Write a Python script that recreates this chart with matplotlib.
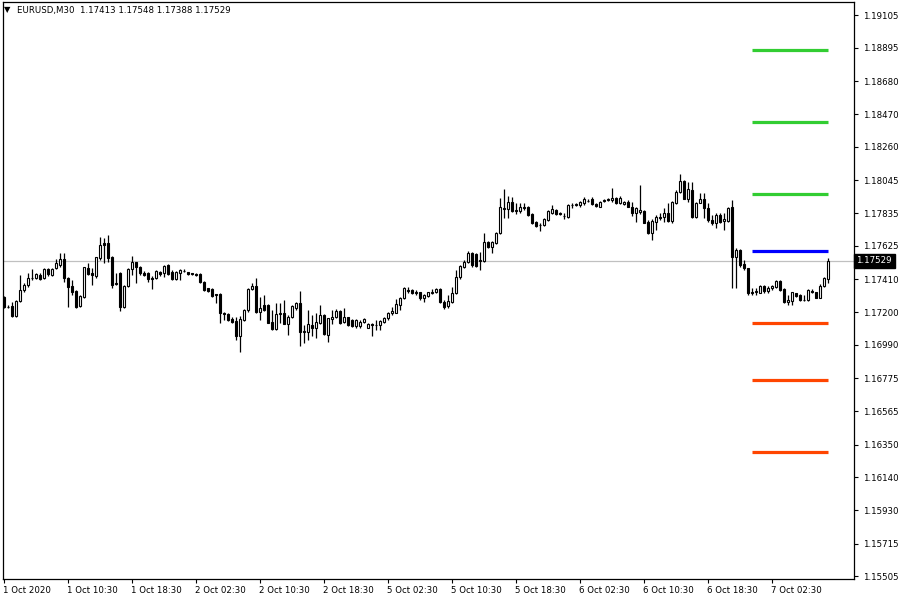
import numpy as np
import matplotlib
matplotlib.use("Agg")
import matplotlib.pyplot as plt
import matplotlib.transforms as mtransforms

# EURUSD M30 candles (one entry per bar)
opens = [1.17299, 1.17236, 1.17240, 1.17176, 1.17272, 1.17342, 1.17374, 1.17417, 1.17421, 1.17438,
         1.17417, 1.17477, 1.17438, 1.17482, 1.17503, 1.17539, 1.17421, 1.17368, 1.17338, 1.17240,
         1.17299, 1.17486, 1.17453, 1.17432, 1.17546, 1.17642, 1.17642, 1.17556, 1.17380, 1.17449,
         1.17235, 1.17368, 1.17475, 1.17520, 1.17492, 1.17453, 1.17453, 1.17421, 1.17417, 1.17459,
         1.17453, 1.17503, 1.17459, 1.17410, 1.17453, 1.17467, 1.17455, 1.17449, 1.17442, 1.17442,
         1.17395, 1.17353, 1.17348, 1.17314, 1.17314, 1.17193, 1.17186, 1.17156, 1.17144, 1.17048,
         1.17150, 1.17214, 1.17346, 1.17368, 1.17203, 1.17246, 1.17246, 1.17139, 1.17092, 1.17190,
         1.17197, 1.17122, 1.17167, 1.17229, 1.17257, 1.17074, 1.17074, 1.17118, 1.17096, 1.17133,
         1.17182, 1.17053, 1.17156, 1.17171, 1.17207, 1.17135, 1.17167, 1.17150, 1.17111, 1.17111,
         1.17135, 1.17100, 1.17122, 1.17118, 1.17118, 1.17139, 1.17161, 1.17193, 1.17197, 1.17246,
         1.17289, 1.17342, 1.17342, 1.17321, 1.17327, 1.17289, 1.17305, 1.17323, 1.17331, 1.17348,
         1.17267, 1.17240, 1.17267, 1.17321, 1.17425, 1.17488, 1.17524, 1.17582, 1.17573, 1.17529,
         1.17529, 1.17652, 1.17616, 1.17646, 1.17706, 1.17866, 1.17862, 1.17909, 1.17851, 1.17851,
         1.17873, 1.17873, 1.17827, 1.17780, 1.17757, 1.17759, 1.17791, 1.17838, 1.17855, 1.17838,
         1.17817, 1.17812, 1.17888, 1.17888, 1.17888, 1.17903, 1.17916, 1.17924, 1.17894, 1.17877,
         1.17916, 1.17920, 1.17920, 1.17931, 1.17899, 1.17894, 1.17907, 1.17875, 1.17838, 1.17842,
         1.17851, 1.17780, 1.17710, 1.17780, 1.17808, 1.17808, 1.17838, 1.17787, 1.17903, 1.17969,
         1.18044, 1.17924, 1.17984, 1.17808, 1.17903, 1.17924, 1.17866, 1.17791, 1.17770, 1.17823,
         1.17785, 1.17787, 1.17873, 1.17552, 1.17599, 1.17507, 1.17482, 1.17331, 1.17327, 1.17325,
         1.17368, 1.17336, 1.17353, 1.17363, 1.17400, 1.17346, 1.17263, 1.17274, 1.17321, 1.17310,
         1.17278, 1.17278, 1.17336, 1.17327, 1.17293, 1.17369, 1.17413]

highs = [1.17304, 1.17246, 1.17267, 1.17278, 1.17438, 1.17385, 1.17453, 1.17475, 1.17453, 1.17451,
         1.17486, 1.17486, 1.17484, 1.17539, 1.17578, 1.17578, 1.17427, 1.17406, 1.17342, 1.17310,
         1.17492, 1.17514, 1.17482, 1.17556, 1.17684, 1.17674, 1.17695, 1.17561, 1.17449, 1.17455,
         1.17374, 1.17482, 1.17561, 1.17524, 1.17497, 1.17464, 1.17459, 1.17432, 1.17470, 1.17467,
         1.17503, 1.17507, 1.17470, 1.17467, 1.17475, 1.17474, 1.17460, 1.17454, 1.17449, 1.17449,
         1.17403, 1.17358, 1.17355, 1.17316, 1.17325, 1.17203, 1.17192, 1.17167, 1.17171, 1.17176,
         1.17220, 1.17353, 1.17385, 1.17417, 1.17299, 1.17310, 1.17250, 1.17214, 1.17257, 1.17257,
         1.17278, 1.17182, 1.17246, 1.17267, 1.17336, 1.17118, 1.17214, 1.17182, 1.17193, 1.17246,
         1.17186, 1.17165, 1.17214, 1.17218, 1.17214, 1.17225, 1.17172, 1.17155, 1.17155, 1.17150,
         1.17161, 1.17129, 1.17133, 1.17150, 1.17150, 1.17171, 1.17199, 1.17235, 1.17284, 1.17299,
         1.17363, 1.17359, 1.17348, 1.17342, 1.17331, 1.17314, 1.17332, 1.17346, 1.17357, 1.17353,
         1.17278, 1.17310, 1.17363, 1.17470, 1.17503, 1.17535, 1.17595, 1.17588, 1.17582, 1.17588,
         1.17706, 1.17659, 1.17659, 1.17716, 1.17931, 1.17988, 1.17946, 1.17941, 1.17903, 1.17899,
         1.17899, 1.17878, 1.17834, 1.17785, 1.17770, 1.17801, 1.17855, 1.17888, 1.17860, 1.17842,
         1.17838, 1.17894, 1.17899, 1.17901, 1.17916, 1.17937, 1.17926, 1.17937, 1.17901, 1.17914,
         1.17926, 1.17933, 1.17995, 1.17936, 1.17947, 1.17914, 1.17920, 1.17907, 1.17877, 1.18016,
         1.17855, 1.17791, 1.17796, 1.17823, 1.17834, 1.17866, 1.17899, 1.17916, 1.17984, 1.18086,
         1.18048, 1.18037, 1.18037, 1.17909, 1.17963, 1.17963, 1.17899, 1.17823, 1.17834, 1.17834,
         1.17834, 1.17877, 1.17920, 1.17610, 1.17604, 1.17535, 1.17486, 1.17357, 1.17353, 1.17374,
         1.17374, 1.17368, 1.17374, 1.17406, 1.17406, 1.17353, 1.17310, 1.17331, 1.17326, 1.17316,
         1.17310, 1.17348, 1.17346, 1.17332, 1.17380, 1.17427, 1.17548]

lows = [1.17225, 1.17225, 1.17171, 1.17171, 1.17267, 1.17331, 1.17363, 1.17406, 1.17410, 1.17406,
        1.17412, 1.17433, 1.17432, 1.17475, 1.17492, 1.17395, 1.17231, 1.17310, 1.17225, 1.17231,
        1.17289, 1.17438, 1.17374, 1.17417, 1.17535, 1.17514, 1.17524, 1.17353, 1.17374, 1.17210,
        1.17225, 1.17363, 1.17438, 1.17385, 1.17438, 1.17432, 1.17395, 1.17346, 1.17410, 1.17435,
        1.17427, 1.17438, 1.17406, 1.17406, 1.17406, 1.17457, 1.17438, 1.17438, 1.17435, 1.17385,
        1.17336, 1.17332, 1.17300, 1.17257, 1.17133, 1.17150, 1.17144, 1.17129, 1.17021, 1.16946,
        1.17144, 1.17203, 1.17342, 1.17193, 1.17150, 1.17210, 1.17128, 1.17085, 1.17085, 1.17129,
        1.17121, 1.17053, 1.17161, 1.17214, 1.16983, 1.17000, 1.17021, 1.17047, 1.17032, 1.17124,
        1.17053, 1.17010, 1.17124, 1.17161, 1.17124, 1.17129, 1.17111, 1.17107, 1.17096, 1.17100,
        1.17129, 1.17096, 1.17047, 1.17085, 1.17085, 1.17133, 1.17150, 1.17182, 1.17193, 1.17214,
        1.17282, 1.17321, 1.17316, 1.17310, 1.17278, 1.17267, 1.17300, 1.17316, 1.17321, 1.17257,
        1.17218, 1.17225, 1.17262, 1.17316, 1.17412, 1.17482, 1.17514, 1.17492, 1.17488, 1.17470,
        1.17524, 1.17610, 1.17582, 1.17637, 1.17701, 1.17802, 1.17802, 1.17844, 1.17829, 1.17834,
        1.17855, 1.17816, 1.17765, 1.17746, 1.17723, 1.17753, 1.17785, 1.17829, 1.17823, 1.17823,
        1.17796, 1.17807, 1.17866, 1.17882, 1.17877, 1.17888, 1.17904, 1.17888, 1.17875, 1.17872,
        1.17907, 1.17914, 1.17909, 1.17894, 1.17894, 1.17888, 1.17872, 1.17817, 1.17780, 1.17829,
        1.17770, 1.17701, 1.17663, 1.17727, 1.17791, 1.17780, 1.17780, 1.17770, 1.17894, 1.17963,
        1.17924, 1.17909, 1.17802, 1.17802, 1.17899, 1.17802, 1.17780, 1.17759, 1.17738, 1.17770,
        1.17727, 1.17780, 1.17353, 1.17353, 1.17492, 1.17470, 1.17310, 1.17310, 1.17310, 1.17321,
        1.17321, 1.17325, 1.17342, 1.17353, 1.17336, 1.17257, 1.17246, 1.17246, 1.17300, 1.17272,
        1.17274, 1.17272, 1.17321, 1.17288, 1.17289, 1.17363, 1.17388]

closes = [1.17231, 1.17233, 1.17176, 1.17274, 1.17342, 1.17374, 1.17417, 1.17421, 1.17442, 1.17410,
          1.17477, 1.17442, 1.17477, 1.17514, 1.17539, 1.17417, 1.17363, 1.17331, 1.17235, 1.17304,
          1.17488, 1.17444, 1.17438, 1.17552, 1.17631, 1.17631, 1.17546, 1.17374, 1.17385, 1.17235,
          1.17368, 1.17475, 1.17520, 1.17492, 1.17453, 1.17438, 1.17410, 1.17410, 1.17464, 1.17442,
          1.17497, 1.17442, 1.17410, 1.17459, 1.17470, 1.17464, 1.17442, 1.17442, 1.17440, 1.17395,
          1.17342, 1.17338, 1.17305, 1.17311, 1.17193, 1.17186, 1.17150, 1.17139, 1.17048, 1.17155,
          1.17214, 1.17346, 1.17368, 1.17203, 1.17225, 1.17214, 1.17129, 1.17092, 1.17186, 1.17193,
          1.17124, 1.17171, 1.17240, 1.17257, 1.17074, 1.17081, 1.17122, 1.17096, 1.17139, 1.17182,
          1.17059, 1.17161, 1.17171, 1.17207, 1.17129, 1.17171, 1.17118, 1.17113, 1.17150, 1.17139,
          1.17155, 1.17124, 1.17118, 1.17116, 1.17144, 1.17165, 1.17193, 1.17207, 1.17252, 1.17293,
          1.17353, 1.17336, 1.17321, 1.17331, 1.17289, 1.17310, 1.17327, 1.17329, 1.17346, 1.17267,
          1.17235, 1.17274, 1.17325, 1.17425, 1.17497, 1.17524, 1.17578, 1.17503, 1.17497, 1.17532,
          1.17652, 1.17620, 1.17652, 1.17710, 1.17873, 1.17862, 1.17905, 1.17851, 1.17855, 1.17873,
          1.17871, 1.17823, 1.17774, 1.17753, 1.17759, 1.17796, 1.17849, 1.17860, 1.17829, 1.17829,
          1.17819, 1.17888, 1.17890, 1.17894, 1.17909, 1.17924, 1.17914, 1.17894, 1.17882, 1.17909,
          1.17920, 1.17924, 1.17931, 1.17899, 1.17931, 1.17907, 1.17875, 1.17834, 1.17866, 1.17858,
          1.17774, 1.17710, 1.17785, 1.17808, 1.17807, 1.17834, 1.17787, 1.17909, 1.17969, 1.18044,
          1.17926, 1.17988, 1.17812, 1.17903, 1.17924, 1.17866, 1.17791, 1.17770, 1.17823, 1.17780,
          1.17796, 1.17866, 1.17556, 1.17599, 1.17503, 1.17482, 1.17325, 1.17321, 1.17336, 1.17368,
          1.17336, 1.17357, 1.17368, 1.17400, 1.17342, 1.17267, 1.17278, 1.17327, 1.17305, 1.17278,
          1.17280, 1.17342, 1.17327, 1.17293, 1.17369, 1.17417, 1.17529]

# indicator levels drawn over the last bars
green_levels = [1.18882, 1.18420, 1.17958]
blue_levels = [1.17593]
red_levels = [1.17131, 1.16765, 1.16302]
level_start, level_end = 187, 206

last_price = 1.17529
header = "EURUSD,M30  1.17413 1.17548 1.17388 1.17529"

price_ticks = ['1.19105', '1.18895', '1.18680', '1.18470', '1.18260', '1.18045',
               '1.17835', '1.17625', '1.17410', '1.17200', '1.16990', '1.16775',
               '1.16565', '1.16350', '1.16140', '1.15930', '1.15715', '1.15505']
time_labels = ['1 Oct 2020', '1 Oct 10:30', '1 Oct 18:30', '2 Oct 02:30', '2 Oct 10:30',
               '2 Oct 18:30', '5 Oct 02:30', '5 Oct 10:30', '5 Oct 18:30', '6 Oct 02:30',
               '6 Oct 10:30', '6 Oct 18:30', '7 Oct 02:30']
bars_per_label = 16

o = np.array(opens)
h = np.array(highs)
l = np.array(lows)
c = np.array(closes)
x = np.arange(len(o))

fig = plt.figure(figsize=(9, 6), dpi=100)
ax = fig.add_axes([2.5 / 900, 21 / 600, 851.8 / 900, 577.3 / 600])

ax.axhline(last_price, color='#c0c0c0', lw=0.9, zorder=1)

# wicks then bodies
ax.vlines(x, l, h, color='black', lw=0.9, zorder=2)
up = c >= o
ax.bar(x[up], (c - o)[up], bottom=o[up], width=0.55, color='white',
       edgecolor='black', linewidth=0.8, zorder=3)
ax.bar(x[~up], (o - c)[~up], bottom=c[~up], width=0.55, color='black',
       edgecolor='black', linewidth=0.8, zorder=3)

for lv in green_levels:
    ax.hlines(lv, level_start, level_end, color='#32cd32', lw=2.3, zorder=4)
for lv in blue_levels:
    ax.hlines(lv, level_start, level_end, color='#0000ff', lw=2.3, zorder=4)
for lv in red_levels:
    ax.hlines(lv, level_start, level_end, color='#ff4500', lw=2.3, zorder=4)

ax.set_xlim(-0.3, 212.65)
ax.set_ylim(1.15488, 1.19192)

for sp in ax.spines.values():
    sp.set_color('black')
    sp.set_linewidth(0.9)

ax.yaxis.tick_right()
ax.set_yticks([float(t) for t in price_ticks])
ax.set_yticklabels(price_ticks)
ax.tick_params(axis='y', direction='out', length=3, width=0.8, pad=3,
               labelsize=6.2, colors='black')

ax.set_xticks(np.arange(len(time_labels)) * bars_per_label)
ax.set_xticklabels(time_labels)
ax.tick_params(axis='x', direction='out', length=3, width=0.8, pad=2,
               labelsize=6.2, colors='black')
offset = mtransforms.ScaledTranslation(-1 / 100, 0, fig.dpi_scale_trans)
for lab in ax.get_xticklabels():
    lab.set_horizontalalignment('left')
    lab.set_transform(lab.get_transform() + offset)

# current price tag on the price scale
ax.text(1.0025, last_price, f"{last_price:.5f}", transform=ax.get_yaxis_transform(),
        ha='left', va='center', fontsize=6.2, color='white', clip_on=False, zorder=10,
        bbox=dict(boxstyle='square,pad=0.3', facecolor='black', edgecolor='black'))

# header line top-left
fig.text(4 / 900, 1 - 10 / 600, "\u25bc", fontsize=6, va='center', ha='left', color='black')
fig.text(17 / 900, 1 - 10 / 600, header, fontsize=6.2, va='center', ha='left', color='black')

fig.savefig("out.png", dpi=100, facecolor='white')
